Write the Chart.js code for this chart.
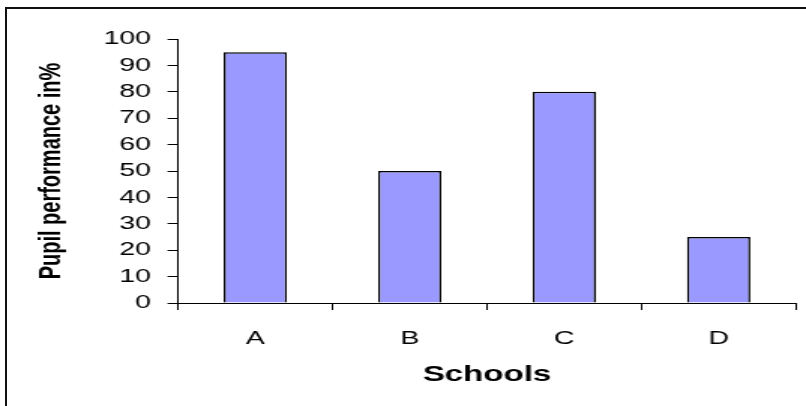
<!DOCTYPE html>
<html>
<head>
<meta charset="utf-8">
<script src="https://cdn.jsdelivr.net/npm/chart.js@4"></script>
<style>
  body { margin: 0; background: #fff; }
  #wrap {
    position: absolute; left: 0; top: 0;
    width: 537px; height: 406px;
    transform: scaleX(1.50093); transform-origin: 0 0;
  }
  #frame {
    position: absolute; left: 5px; top: 7px;
    width: 820px; height: 420px;
    border: 2px solid #111; pointer-events: none;
  }
</style>
</head>
<body>
<div id="wrap"><canvas id="chart" width="537" height="406"></canvas></div>
<div id="frame"></div>
<script>
// schools and their scores
const schools = ['A', 'B', 'C', 'D'];
const performance = [95, 50, 80, 25];
const yTicks = [0, 10, 20, 30, 40, 50, 60, 70, 80, 90, 100];

const FONT = "'Liberation Sans', Arial, sans-serif";

window.onload = function() {
  new Chart(document.getElementById('chart'), {
    type: 'bar',
    data: {
      labels: schools,
      datasets: [{
        data: performance,
        backgroundColor: '#9999FF',
        borderColor: '#000',
        borderWidth: 1.5,
        categoryPercentage: 1,
        barPercentage: 0.41
      }]
    },
    options: {
      responsive: false,
      animation: false,
      layout: { padding: { top: 39, right: 6.7, bottom: 0, left: 0 } },
      plugins: { legend: { display: false }, tooltip: { enabled: false } },
      scales: {
        x: {
          grid: { drawOnChartArea: false, color: '#000', tickLength: 7 },
          border: { color: '#000', width: 1 },
          ticks: { color: '#000', padding: 17, font: { family: FONT, size: 19 } },
          title: {
            display: true, text: 'Schools', color: '#000',
            font: { family: FONT, size: 22, weight: 'bold' },
            padding: { top: 0, bottom: 18 }
          },
          afterFit: s => { s.height = 103; }
        },
        y: {
          min: 0, max: 100,
          afterBuildTicks: s => { s.ticks = yTicks.map(v => ({ value: v })); },
          grid: { drawOnChartArea: false, color: '#000', tickLength: 7 },
          border: { color: '#000', width: 1 },
          ticks: { color: '#000', padding: 11, font: { family: FONT, size: 19 } },
          title: {
            display: true, text: 'Pupil performance in%', color: '#000',
            font: { family: FONT, size: 20, weight: 'bold' },
            padding: { top: 22, bottom: 0 }
          },
          afterFit: s => { s.width = 118.6; }
        }
      }
    }
  });
};
</script>
</body>
</html>
